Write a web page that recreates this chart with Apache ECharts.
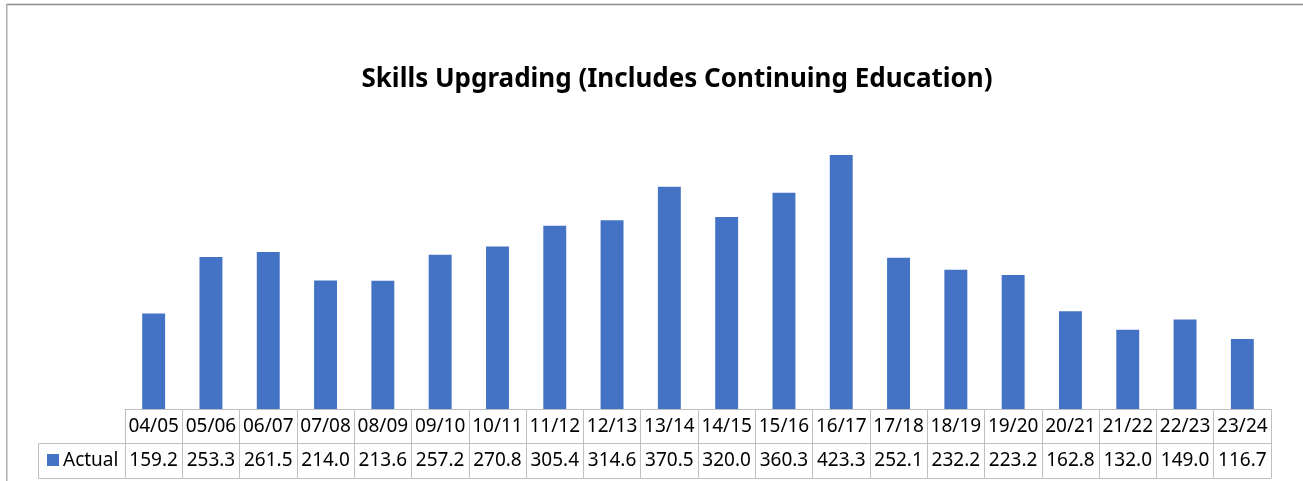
<!DOCTYPE html>
<html>
<head>
<meta charset="utf-8">
<script src="https://cdn.jsdelivr.net/npm/echarts@6/dist/echarts.min.js"></script>
<style>
  html, body { margin: 0; padding: 0; background: #fff; }
  #chart { width: 1303px; height: 481px; }
</style>
</head>
<body>
<div id="chart"></div>
<script>
// 学年
var categories = ['04/05', '05/06', '06/07', '07/08', '08/09', '09/10', '10/11', '11/12', '12/13', '13/14',
  '14/15', '15/16', '16/17', '17/18', '18/19', '19/20', '20/21', '21/22', '22/23', '23/24'];
var actual = [159.2, 253.3, 261.5, 214.0, 213.6, 257.2, 270.8, 305.4, 314.6, 370.5,
  320.0, 360.3, 423.3, 252.1, 232.2, 223.2, 162.8, 132.0, 149.0, 116.7];

var border = '#bfbfbf';
var font = 'Noto Sans';

var chart = echarts.init(document.getElementById('chart'));
chart.setOption({
  animation: false,
  title: {
    text: 'Skills Upgrading (Includes Continuing Education)',
    left: 672,
    top: 62,
    textAlign: 'center',
    textStyle: { fontFamily: font, fontSize: 26, fontWeight: 'bold', color: '#000' }
  },
  grid: { left: 125, right: 32, top: 109, bottom: 72 },
  xAxis: [{
    type: 'category',
    data: categories,
    position: 'bottom',
    axisLine: { lineStyle: { color: border } },
    axisTick: { show: true, interval: 0, length: 69, lineStyle: { color: border } },
    axisLabel: { interval: 0, margin: 8, fontFamily: font, fontSize: 19, lineHeight: 19, color: '#000' }
  }, {
    type: 'category',
    data: actual.map(function (v) { return v.toFixed(1); }),
    position: 'bottom',
    offset: 34,
    axisLine: { lineStyle: { color: border } },
    axisTick: { show: false },
    axisLabel: { interval: 0, margin: 8, fontFamily: font, fontSize: 19, lineHeight: 19, color: '#000' }
  }, {
    type: 'category',
    data: categories,
    position: 'bottom',
    offset: 69,
    axisLine: { lineStyle: { color: border } },
    axisTick: { show: false },
    axisLabel: { show: false }
  }],
  yAxis: { type: 'value', min: 0, max: 500, show: false },
  series: [{
    name: 'Actual',
    type: 'bar',
    data: actual,
    barWidth: '40%',
    itemStyle: { color: '#4472c4' }
  }],
  graphic: [
    // 外框
    { type: 'line', shape: { x1: 6, y1: 4.5, x2: 1303, y2: 4.5 }, style: { stroke: '#8c8c8c', lineWidth: 1.3 } },
    { type: 'line', shape: { x1: 6.8, y1: 4, x2: 6.8, y2: 481 }, style: { stroke: '#b0b0b0', lineWidth: 1.5 } },
    // 图例格
    { type: 'line', shape: { x1: 38.5, y1: 443.5, x2: 125, y2: 443.5 }, style: { stroke: border, lineWidth: 1 } },
    { type: 'line', shape: { x1: 38.5, y1: 478.5, x2: 125, y2: 478.5 }, style: { stroke: border, lineWidth: 1 } },
    { type: 'line', shape: { x1: 38.5, y1: 443.5, x2: 38.5, y2: 478.5 }, style: { stroke: border, lineWidth: 1 } },
    { type: 'rect', shape: { x: 47, y: 454, width: 12, height: 12 }, style: { fill: '#4472c4' } },
    { type: 'text', x: 63, y: 461, style: { text: 'Actual', font: '19px "Noto Sans"', fill: '#000', verticalAlign: 'middle' } }
  ]
});
</script>
</body>
</html>
